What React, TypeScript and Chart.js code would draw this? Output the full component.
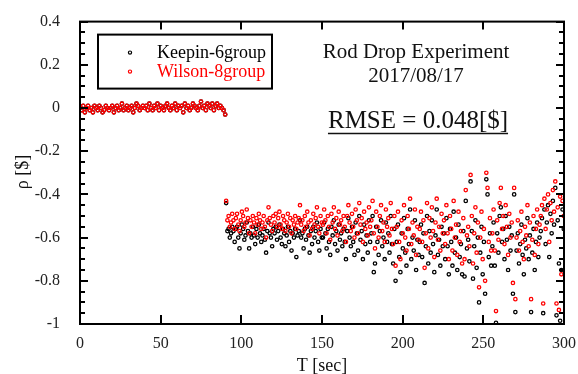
import { useEffect, useRef } from "react";
import { Chart, registerables } from "chart.js";

Chart.register(...registerables);

// ---- Data ----
const seriesLabels = ["Keepin-6group", "Wilson-8group"];
const seriesColors = ["#000000", "#ff0000"];

const xTickValues = [0, 50, 100, 150, 200, 250, 300];
const yTickValues = [-1, -0.8, -0.6, -0.4, -0.2, 0, 0.2, 0.4];
const yTickLabels = ["-1", "-0.8", "-0.6", "-0.4", "-0.2", "0", "0.2", "0.4"];

// Before the rod drop (T = 0 .. 90 s), both evaluations coincide around 0 $
const preDropStart = 0;
const preDropStep = 1;
const preDropRho = [
  0.0, -0.01, 0.01, -0.02, 0.0, 0.01, -0.01, 0.0, -0.02, 0.01,
  0.0, -0.01, 0.01, 0.0, -0.02, -0.01, 0.01, 0.0, -0.01, 0.0,
  0.01, -0.02, 0.0, 0.01, -0.01, 0.0, 0.02, -0.01, 0.0, 0.01,
  -0.01, 0.0, 0.01, -0.02, 0.0, 0.02, 0.01, -0.01, 0.0, 0.01,
  0.0, 0.01, -0.01, 0.02, 0.0, -0.01, 0.01, 0.0, 0.02, -0.01,
  0.01, 0.0, -0.01, 0.01, 0.02, 0.0, -0.01, 0.01, 0.0, 0.02,
  -0.01, 0.01, 0.0, 0.01, -0.02, 0.02, 0.0, 0.01, -0.01, 0.0,
  0.02, 0.01, 0.0, -0.01, 0.01, 0.03, 0.0, 0.01, -0.01, 0.02,
  0.01, 0.0, 0.02, -0.01, 0.01, 0.02, 0.0, 0.01, 0.0, -0.01,
  -0.03,
];

// After the rod drop (T = 90.6 .. 300 s)
const postDropStart = 90.6;
const postDropStep = 0.75;
const keepinPost = [
  -0.44, -0.57, -0.56, -0.6, -0.58, -0.55, -0.57, -0.62, -0.56, -0.55, -0.6, -0.65, -0.58, -0.54, -0.56, -0.61, -0.59, -0.53, -0.57, -0.65,
  -0.58, -0.6, -0.55, -0.59, -0.63, -0.56, -0.6, -0.54, -0.58, -0.62, -0.59, -0.56, -0.61, -0.67, -0.57, -0.53, -0.58, -0.6, -0.64, -0.56,
  -0.58, -0.55, -0.61, -0.57, -0.54, -0.6, -0.63, -0.56, -0.58, -0.64, -0.59, -0.55, -0.62, -0.57, -0.66, -0.58, -0.6, -0.56, -0.69, -0.59,
  -0.57, -0.52, -0.6, -0.58, -0.65, -0.56, -0.61, -0.55, -0.59, -0.67, -0.57, -0.63, -0.55, -0.6, -0.57, -0.53, -0.62, -0.66, -0.56, -0.6,
  -0.6, -0.53, -0.58, -0.65, -0.56, -0.62, -0.68, -0.55, -0.59, -0.52, -0.63, -0.57, -0.66, -0.54, -0.61, -0.58, -0.64, -0.56, -0.62, -0.7,
  -0.57, -0.51, -0.6, -0.64, -0.55, -0.62, -0.68, -0.53, -0.58, -0.66, -0.5, -0.61, -0.57, -0.7, -0.54, -0.63, -0.59, -0.67, -0.52, -0.62,
  -0.58, -0.5, -0.76, -0.72, -0.55, -0.62, -0.68, -0.57, -0.52, -0.64, -0.6, -0.7, -0.53, -0.62, -0.58, -0.67, -0.5, -0.63, -0.72, -0.56,
  -0.8, -0.62, -0.54, -0.69, -0.76, -0.58, -0.65, -0.51, -0.67, -0.73, -0.56, -0.63, -0.47, -0.7, -0.6, -0.66, -0.52, -0.75, -0.61, -0.68,
  -0.62, -0.54, -0.69, -0.58, -0.81, -0.64, -0.5, -0.72, -0.57, -0.67, -0.52, -0.63, -0.76, -0.59, -0.47, -0.68, -0.61, -0.73, -0.55, -0.64,
  -0.58, -0.7, -0.51, -0.64, -0.77, -0.56, -0.62, -0.73, -0.48, -0.67, -0.6, -0.75, -0.54, -0.69, -0.63, -0.77, -0.57, -0.78, -0.43, -0.65,
  -0.61, -0.71, -0.34, -0.57, -0.79, -0.64, -0.52, -0.74, -0.6, -0.9, -0.67, -0.55, -0.77, -0.62, -0.86, -0.33, -0.4, -0.69, -0.58, -0.73,
  -0.64, -0.53, -0.73, -0.995, -0.58, -0.67, -0.5, -0.46, -0.62, -0.56, -0.7, -0.5, -0.61, -0.75, -0.55, -0.66, -0.59, -0.86, -0.4, -0.945,
  -0.66, -0.58, -0.72, -0.63, -0.54, -0.68, -0.77, -0.61, -0.65, -0.51, -0.7, -0.59, -0.945, -0.67, -0.56, -0.75, -0.62, -0.53, -0.69, -0.6,
  -0.57, -0.51, -0.95, -0.47, -0.63, -0.53, -0.45, -0.69, -0.49, -0.58, -0.43, -0.54, -0.37, -0.96, -0.52, -0.72, -0.985, -0.75, -0.47, -0.56,
];
const wilsonPost = [
  -0.43, -0.52, -0.5, -0.55, -0.53, -0.49, -0.52, -0.56, -0.51, -0.49, -0.54, -0.57, -0.52, -0.48, -0.5, -0.55, -0.53, -0.47, -0.51, -0.58,
  -0.52, -0.55, -0.5, -0.53, -0.58, -0.51, -0.54, -0.49, -0.52, -0.56, -0.53, -0.5, -0.55, -0.6, -0.52, -0.46, -0.51, -0.54, -0.57, -0.5,
  -0.53, -0.49, -0.55, -0.51, -0.48, -0.54, -0.56, -0.5, -0.52, -0.57, -0.53, -0.49, -0.55, -0.51, -0.58, -0.52, -0.54, -0.5, -0.56, -0.53,
  -0.51, -0.45, -0.54, -0.52, -0.57, -0.5, -0.55, -0.48, -0.53, -0.59, -0.52, -0.56, -0.49, -0.54, -0.51, -0.46, -0.55, -0.58, -0.5, -0.53,
  -0.54, -0.47, -0.52, -0.58, -0.5, -0.55, -0.61, -0.49, -0.53, -0.46, -0.56, -0.51, -0.59, -0.48, -0.54, -0.52, -0.57, -0.5, -0.55, -0.62,
  -0.5, -0.45, -0.53, -0.57, -0.49, -0.55, -0.6, -0.47, -0.52, -0.58, -0.44, -0.54, -0.51, -0.62, -0.48, -0.56, -0.53, -0.59, -0.46, -0.55,
  -0.52, -0.43, -0.58, -0.65, -0.48, -0.55, -0.6, -0.5, -0.45, -0.57, -0.53, -0.62, -0.47, -0.55, -0.51, -0.59, -0.44, -0.56, -0.63, -0.5,
  -0.73, -0.55, -0.48, -0.62, -0.7, -0.52, -0.58, -0.45, -0.6, -0.66, -0.5, -0.56, -0.42, -0.63, -0.53, -0.59, -0.47, -0.68, -0.55, -0.61,
  -0.56, -0.48, -0.62, -0.52, -0.74, -0.58, -0.44, -0.65, -0.51, -0.6, -0.46, -0.57, -0.69, -0.53, -0.42, -0.61, -0.55, -0.66, -0.49, -0.58,
  -0.52, -0.63, -0.45, -0.58, -0.7, -0.5, -0.56, -0.66, -0.43, -0.6, -0.54, -0.68, -0.48, -0.62, -0.57, -0.72, -0.51, -0.7, -0.38, -0.59,
  -0.55, -0.64, -0.31, -0.5, -0.72, -0.58, -0.46, -0.67, -0.53, -0.83, -0.6, -0.48, -0.7, -0.56, -0.8, -0.3, -0.37, -0.62, -0.51, -0.66,
  -0.58, -0.47, -0.66, -0.94, -0.52, -0.61, -0.44, -0.37, -0.56, -0.5, -0.63, -0.45, -0.55, -0.68, -0.49, -0.6, -0.53, -0.81, -0.37, -0.885,
  -0.6, -0.52, -0.66, -0.57, -0.48, -0.62, -0.7, -0.55, -0.59, -0.45, -0.64, -0.53, -0.885, -0.61, -0.5, -0.68, -0.56, -0.47, -0.63, -0.54,
  -0.5, -0.45, -0.905, -0.42, -0.56, -0.47, -0.4, -0.62, -0.44, -0.52, -0.38, -0.48, -0.34, -0.905, -0.46, -0.935, -0.41, -0.77, -0.43, -0.5,
];

const annotationLines = ["Rod Drop Experiment", "2017/08/17"];
const rmseText = "RMSE = 0.048[$]";
const xAxisTitle = "T [sec]";
const yAxisTitle = "ρ [$]";

const SERIF = "'Liberation Serif', 'DejaVu Serif', serif";

function buildPoints(post: number[]) {
  const pts: { x: number; y: number }[] = [];
  preDropRho.forEach((v, i) => pts.push({ x: preDropStart + i * preDropStep, y: v }));
  post.forEach((v, i) => pts.push({ x: postDropStart + i * postDropStep, y: v }));
  return pts;
}

const framePlugin = {
  id: "framePlugin",
  afterDraw(chart: any) {
    const { ctx, chartArea: a, scales } = chart;
    const xs = scales.x;
    const ys = scales.y;
    ctx.save();
    ctx.strokeStyle = "#000";
    ctx.lineWidth = 2;
    ctx.strokeRect(a.left, a.top, a.right - a.left, a.bottom - a.top);
    ctx.beginPath();
    xTickValues.forEach((v) => {
      const px = Math.round(xs.getPixelForValue(v));
      ctx.moveTo(px, a.bottom);
      ctx.lineTo(px, a.bottom - 9);
      ctx.moveTo(px, a.top);
      ctx.lineTo(px, a.top + 8);
    });
    const yMin = yTickValues[0];
    const yMax = yTickValues[yTickValues.length - 1];
    const n = Math.round((yMax - yMin) / 0.05);
    for (let k = 0; k <= n; k++) {
      const v = yMin + k * 0.05;
      const py = Math.round(ys.getPixelForValue(v));
      const len = k % 4 === 0 ? 8 : 5;
      ctx.moveTo(a.left, py);
      ctx.lineTo(a.left + len, py);
      ctx.moveTo(a.right, py);
      ctx.lineTo(a.right - len, py);
    }
    ctx.stroke();

    // legend box
    const lx = a.left + 18;
    const ly = a.top + 13;
    const lw = 174;
    const lh = 54;
    ctx.lineWidth = 2;
    ctx.strokeRect(lx, ly, lw, lh);
    ctx.font = `18px ${SERIF}`;
    ctx.textBaseline = "middle";
    ctx.textAlign = "left";
    seriesLabels.forEach((lab, i) => {
      const cy = ly + 19 + i * 19;
      ctx.beginPath();
      ctx.lineWidth = 1.2;
      ctx.strokeStyle = seriesColors[i];
      ctx.arc(lx + 32, cy - 1, 1.6, 0, Math.PI * 2);
      ctx.stroke();
      ctx.fillStyle = seriesColors[i];
      ctx.fillText(lab, lx + 59, cy);
    });

    // annotation
    ctx.fillStyle = "#111";
    ctx.textAlign = "center";
    ctx.font = `21px ${SERIF}`;
    const cx = 416;
    ctx.fillText(annotationLines[0], cx, 52);
    ctx.fillText(annotationLines[1], cx, 76);
    ctx.font = `25px ${SERIF}`;
    ctx.fillText(rmseText, 418, 121);
    const w = ctx.measureText(rmseText).width;
    ctx.beginPath();
    ctx.strokeStyle = "#111";
    ctx.lineWidth = 1.5;
    ctx.moveTo(418 - w / 2, 133.5);
    ctx.lineTo(418 + w / 2, 133.5);
    ctx.stroke();

    // axis titles
    ctx.font = `18px ${SERIF}`;
    ctx.fillStyle = "#111";
    ctx.fillText(xAxisTitle, (a.left + a.right) / 2, 366);
    ctx.translate(23, 172);
    ctx.rotate(-Math.PI / 2);
    ctx.fillText(yAxisTitle, 0, 0);
    ctx.restore();
  },
};

export default function App() {
  const ref = useRef<HTMLCanvasElement | null>(null);
  useEffect(() => {
    if (!ref.current) return;
    const chart = new Chart(ref.current, {
      type: "scatter",
      data: {
        datasets: [
          {
            label: seriesLabels[0],
            data: buildPoints(keepinPost),
            borderColor: seriesColors[0],
            backgroundColor: "rgba(0,0,0,0)",
            pointRadius: 1.7,
            pointBorderWidth: 1.3,
            order: 1,
          },
          {
            label: seriesLabels[1],
            data: buildPoints(wilsonPost),
            borderColor: seriesColors[1],
            backgroundColor: "rgba(0,0,0,0)",
            pointRadius: 1.7,
            pointBorderWidth: 1.3,
            order: 0,
          },
        ],
      },
      options: {
        animation: false,
        responsive: false,
        events: [],
        layout: { padding: { top: 20, right: 12, left: 0, bottom: 0 } },
        plugins: { legend: { display: false }, tooltip: { enabled: false }, title: { display: false } },
        scales: {
          x: {
            type: "linear",
            min: xTickValues[0],
            max: xTickValues[xTickValues.length - 1],
            afterBuildTicks(s: any) {
              s.ticks = xTickValues.map((v) => ({ value: v }));
            },
            ticks: {
              font: { family: SERIF, size: 16 },
              color: "#222",
              padding: 2,
              maxRotation: 0,
              callback: (v: any) => String(v),
            },
            grid: { display: false },
            border: { display: false },
            afterFit(s: any) {
              s.height = 50;
            },
          },
          y: {
            type: "linear",
            min: yTickValues[0],
            max: yTickValues[yTickValues.length - 1],
            afterBuildTicks(s: any) {
              s.ticks = yTickValues.map((v) => ({ value: v }));
            },
            ticks: {
              font: { family: SERIF, size: 16 },
              color: "#222",
              padding: 12,
              callback: (_v: any, i: number) => yTickLabels[i],
            },
            grid: { display: false },
            border: { display: false },
            afterFit(s: any) {
              s.width = 80;
            },
          },
        },
      },
      plugins: [framePlugin],
    });
    return () => chart.destroy();
  }, []);
  return (
    <div style={{ position: "fixed", left: 0, top: 0, width: 578, height: 374, background: "#fff" }}>
      <canvas ref={ref} width={578} height={374} style={{ width: 578, height: 374 }} />
    </div>
  );
}
